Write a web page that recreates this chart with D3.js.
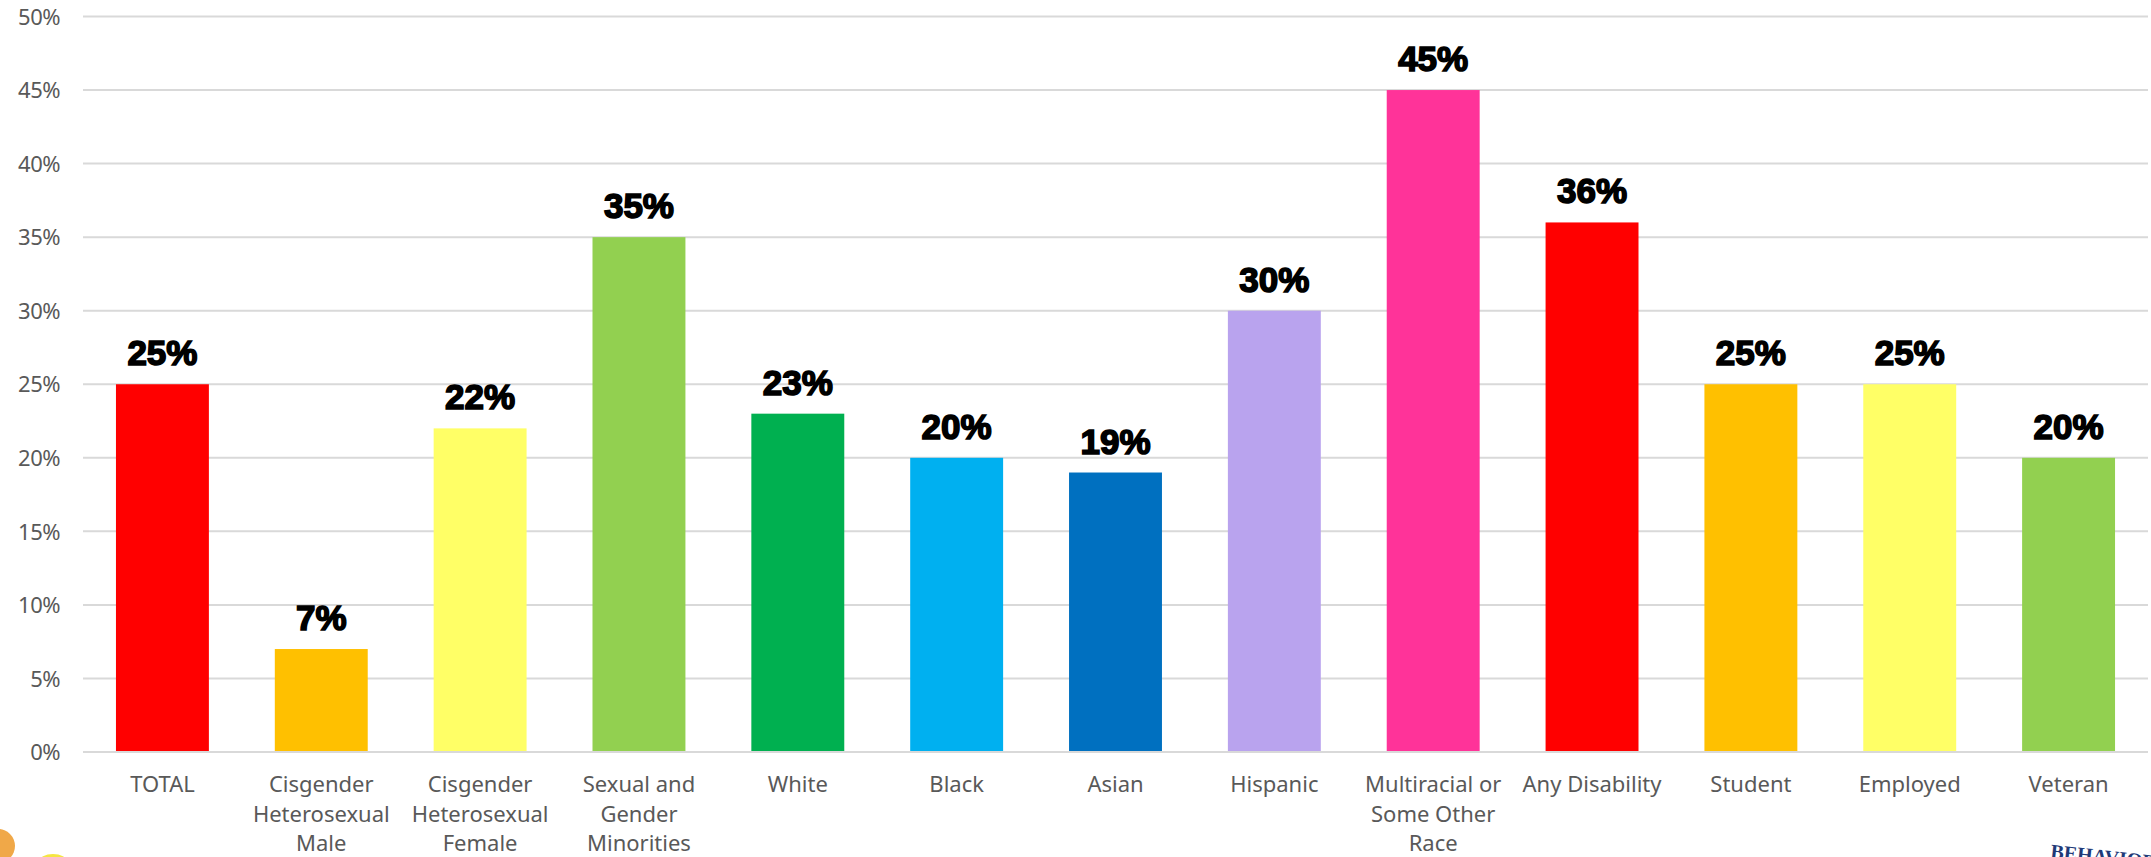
<!DOCTYPE html>
<html><head><meta charset="utf-8">
<script src="https://cdn.jsdelivr.net/npm/d3@7"></script>
<style>
html,body{margin:0;padding:0;background:#fff;}
svg{display:block;}
</style></head>
<body>
<svg id="chart" width="2151" height="857"></svg>
<script>
const categories = [
  ["TOTAL"],
  ["Cisgender","Heterosexual","Male"],
  ["Cisgender","Heterosexual","Female"],
  ["Sexual and","Gender","Minorities"],
  ["White"],
  ["Black"],
  ["Asian"],
  ["Hispanic"],
  ["Multiracial or","Some Other","Race"],
  ["Any Disability"],
  ["Student"],
  ["Employed"],
  ["Veteran"]
];
const values = [25, 7, 22, 35, 23, 20, 19, 30, 45, 36, 25, 25, 20];
const colors = ["#FF0000","#FFC000","#FFFF66","#92D050","#00B050","#00B0F0","#0070C0","#B9A3EE","#FF3399","#FF0000","#FFC000","#FFFF66","#92D050"];
const yTicks = [0,5,10,15,20,25,30,35,40,45,50];

(function(){
const svg = d3.select("#chart");
const pL = 83, pR = 2148, pT = 16.5, pB = 752;
const keys = categories.map((c,i)=>i);
const x = d3.scaleBand().domain(keys).range([pL,pR]).paddingInner(0.415).paddingOuter(0.2075);
const y = d3.scaleLinear().domain([0,50]).range([pB,pT]);

// gridlines
svg.append("g").selectAll("line").data(yTicks).join("line")
  .attr("x1",pL).attr("x2",pR)
  .attr("y1",d=>y(d)).attr("y2",d=>y(d))
  .attr("stroke","#D9D9D9").attr("stroke-width",2);

// y axis labels
const yAxis = d3.axisLeft(y).tickValues(yTicks).tickFormat(d=>d+"%").tickSize(0).tickPadding(0);
const ya = svg.append("g").attr("transform","translate(60,0)").call(yAxis);
ya.select(".domain").remove();
ya.selectAll("text").attr("font-family","'Noto Sans', sans-serif").attr("font-size",22)
  .attr("fill","#595959").attr("dy","0.35em").attr("letter-spacing","-0.5");

// bars
svg.append("g").selectAll("rect").data(values).join("rect")
  .attr("x",(d,i)=>x(i)).attr("width",x.bandwidth())
  .attr("y",d=>y(d)).attr("height",d=>pB-y(d)-1)
  .attr("fill",(d,i)=>colors[i]);

// value labels
svg.append("g").selectAll("text").data(values).join("text")
  .attr("x",(d,i)=>x(i)+x.bandwidth()/2).attr("y",d=>y(d)-19)
  .attr("text-anchor","middle")
  .attr("font-family","'Liberation Sans', Arial, sans-serif").attr("font-weight","bold")
  .attr("font-size",35).attr("fill","#000").attr("stroke","#000").attr("stroke-width",1.6)
  .text(d=>d+"%");

// category labels
const xa = svg.append("g");
categories.forEach((lines,i)=>{
  const cx = x(i)+x.bandwidth()/2;
  const t = xa.append("text").attr("text-anchor","middle")
    .attr("font-family","'Noto Sans', sans-serif").attr("font-size",22).attr("fill","#595959")
    .attr("x",cx).attr("y",792);
  lines.forEach((ln,j)=>{
    t.append("tspan").attr("x",cx).attr("y",792+j*29.5).text(ln);
  });
});

// decorations (partial logos at corners)
svg.append("circle").attr("cx",-2).attr("cy",846).attr("r",17).attr("fill","#F0A848");
svg.append("ellipse").attr("cx",53).attr("cy",862).attr("rx",14).attr("ry",8).attr("fill","#F5E642");
svg.append("text").attr("x",2050).attr("y",862).attr("font-family","'Liberation Serif', serif")
  .attr("font-weight","bold").attr("font-size",20).attr("fill","#1F3A78")
  .attr("transform","rotate(6,2090,860)").text("BEHAVIOR");
})();
</script>
</body></html>
